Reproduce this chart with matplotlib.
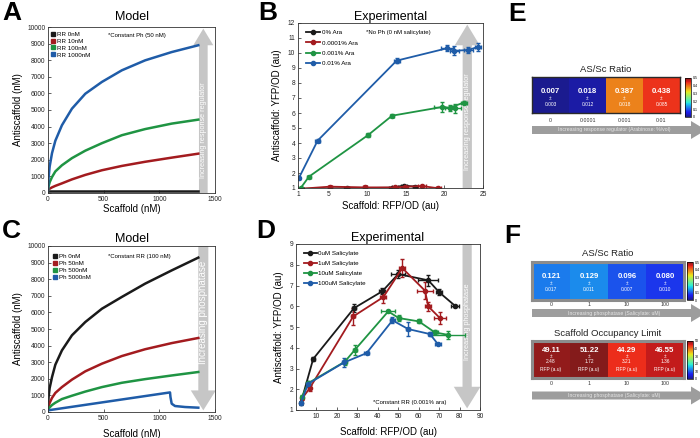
import numpy as np
import matplotlib
matplotlib.use("Agg")
import matplotlib.pyplot as plt
from matplotlib.lines import Line2D
from matplotlib.patches import FancyArrow
from matplotlib.colors import ListedColormap

plt.rcParams['font.family'] = ['Liberation Sans', 'DejaVu Sans']

# ---------------- data ----------------
# Panel A (model, constant Ph 50 nM)
A_x = [0, 5, 15, 36, 66, 125, 215, 335, 484, 663, 872, 1111, 1350]
A_rr0 = [150, 150, 150, 150, 150, 150, 150, 150, 150, 150, 150, 150, 150]
A_rr10 = [150, 200, 260, 340, 430, 580, 820, 1090, 1370, 1630, 1880, 2130, 2370]
A_rr100 = [150, 400, 650, 960, 1300, 1670, 2100, 2550, 3000, 3480, 3850, 4180, 4420]
A_rr1000 = [150, 900, 1600, 2400, 3150, 4080, 5080, 5980, 6690, 7390, 7990, 8490, 8900]
A_labels = ['RR 0nM', 'RR 10nM', 'RR 100nM', 'RR 1000nM']

# Panel C (model, constant RR 100 nM)
C_x = [0, 5, 15, 36, 66, 125, 215, 335, 484, 663, 872, 1111, 1350]
C_ph0 = [150, 900, 1450, 2100, 2850, 3710, 4620, 5420, 6220, 6930, 7730, 8530, 9300]
C_ph50 = [150, 350, 550, 850, 1150, 1500, 1950, 2450, 2910, 3370, 3780, 4150, 4460]
C_ph500 = [120, 190, 280, 420, 560, 780, 980, 1230, 1500, 1760, 1980, 2200, 2410]
C_ph5000_x = [0, 1096, 1100, 1111, 1141, 1231, 1350]
C_ph5000 = [100, 1180, 900, 500, 360, 300, 260]
C_labels = ['Ph 0nM', 'Ph 50nM', 'Ph 500nM', 'Ph 5000nM']

# Panel B (experimental, no Ph)
B_labels = ['0% Ara', '0.0001% Ara', '0.001% Ara', '0.01% Ara']
B0_x = [1.5, 7.3, 13.2, 14.7, 16.2]
B0_y = [0.95, 0.98, 1.02, 1.16, 1.09]
B0_xe = [0.2, 0.3, 0.4, 0.4, 0.3]
B0_ye = [0.03, 0.03, 0.03, 0.05, 0.04]
B1_x = [1.35, 5.15, 9.7, 13.6, 14.9, 17.1, 19.2]
B1_y = [0.95, 1.09, 1.04, 1.04, 1.09, 1.13, 0.98]
B1_xe = [0.2, 0.3, 0.3, 0.4, 0.4, 0.5, 0.3]
B1_ye = [0.03, 0.04, 0.03, 0.03, 0.04, 0.05, 0.03]
B2_x = [1.35, 2.43, 10.1, 13.2, 19.7, 21.4, 20.7, 22.5]
B2_y = [1.0, 1.76, 4.53, 5.82, 6.40, 6.30, 6.36, 6.69]
B2_xe = [0.1, 0.2, 0.3, 0.3, 1.0, 0.8, 0.6, 0.4]
B2_ye = [0.03, 0.05, 0.15, 0.1, 0.35, 0.3, 0.2, 0.1]
B3_x = [1.13, 3.55, 13.8, 20.3, 21.3, 23.1, 24.3]
B3_y = [1.68, 4.16, 9.49, 10.31, 10.15, 10.2, 10.4]
B3_xe = [0.1, 0.3, 0.4, 0.8, 0.6, 0.6, 0.4]
B3_ye = [0.05, 0.1, 0.15, 0.2, 0.3, 0.2, 0.25]

# Panel D (experimental, constant RR)
D_labels = ['0uM Salicylate', '1uM Salicylate', '10uM Salicylate', '100uM Salicylate']
D0_x = [2.3, 8.4, 28.4, 42.2, 50.0, 64.7, 70.1, 77.8]
D0_y = [1.32, 3.46, 5.91, 6.72, 7.55, 7.25, 6.67, 6.02]
D0_xe = [0.5, 0.8, 1.0, 1.5, 3.5, 5.0, 1.5, 2.0]
D0_ye = [0.05, 0.1, 0.2, 0.15, 0.2, 0.25, 0.15, 0.05]
D1_x = [3.0, 6.7, 28.0, 42.7, 52.0, 63.1, 64.7, 70.4]
D1_y = [1.56, 2.05, 5.51, 6.44, 7.84, 6.75, 5.99, 5.43]
D1_xe = [0.5, 0.8, 1.0, 1.5, 1.5, 4.0, 1.5, 3.0]
D1_ye = [0.1, 0.15, 0.4, 0.3, 0.45, 0.4, 0.2, 0.3]
D2_x = [3.0, 5.9, 23.9, 28.8, 45.1, 50.3, 60.1, 67.9, 74.5]
D2_y = [1.64, 2.29, 3.33, 3.90, 5.75, 5.43, 5.27, 4.74, 4.62]
D2_xe = [0.5, 0.8, 1.0, 1.0, 3.5, 1.0, 1.0, 1.5, 8.0]
D2_ye = [0.1, 0.1, 0.15, 0.25, 0.05, 0.15, 0.1, 0.1, 0.2]
D3_x = [2.3, 5.9, 23.5, 34.5, 47.2, 54.9, 65.5, 69.3]
D3_y = [1.32, 2.26, 3.29, 3.74, 5.32, 4.90, 4.66, 4.19]
D3_xe = [0.5, 0.8, 1.0, 1.0, 1.0, 1.0, 1.0, 1.5]
D3_ye = [0.1, 0.15, 0.2, 0.05, 0.15, 0.35, 0.1, 0.05]

# Panel E / F heatmaps
E_cats = ['0', '0.0001', '0.001', '0.01']
E_ratio = [0.007, 0.018, 0.387, 0.438]
E_err = [0.003, 0.012, 0.018, 0.085]
F_cats = ['0', '1', '10', '100']
F_ratio = [0.121, 0.129, 0.096, 0.080]
F_err = [0.017, 0.011, 0.007, 0.010]
F_occ = [49.11, 51.22, 44.29, 46.55]
F_occ_err = [2.48, 1.72, 3.21, 1.36]

# ---------------- style ----------------
COL = ['#1a1a1a', '#a31b1f', '#1f9443', '#1f5ca8']
ARROW_GRAY = '#c6c6c6'
W, H = 700, 438

fig = plt.figure(figsize=(7, 4.38), dpi=100)


def px_axes(l, t, r, b):
    return fig.add_axes([l / W, (H - b) / H, (r - l) / W, (b - t) / H])


def style_axes(ax):
    for s in ax.spines.values():
        s.set_linewidth(0.6)
        s.set_color('#333333')
    ax.tick_params(direction='in', length=2, width=0.5, labelsize=4.8, pad=2,
                   colors='#222222')


def panel_arrow(ax, xc, up, width, head_w, head_l, text, tfrac, fs):
    if up:
        arr = FancyArrow(xc, 0.0, 0, 0.99, width=width, head_width=head_w,
                         head_length=head_l, length_includes_head=True,
                         transform=ax.transAxes, color=ARROW_GRAY, lw=0, zorder=0.5)
    else:
        arr = FancyArrow(xc, 1.0, 0, -0.99, width=width, head_width=head_w,
                         head_length=head_l, length_includes_head=True,
                         transform=ax.transAxes, color=ARROW_GRAY, lw=0, zorder=0.5)
    ax.add_patch(arr)
    ax.text(xc, tfrac, text, rotation=90, color='white', ha='center', va='center',
            fontsize=fs, transform=ax.transAxes, zorder=0.6)


# ---------- Panel A ----------
axA = px_axes(48, 27, 215, 193)
for ys, c in zip([A_rr0, A_rr10, A_rr100, A_rr1000], COL):
    axA.plot(A_x, ys, color=c, lw=1.8, zorder=2)
axA.set_xlim(0, 1500)
axA.set_ylim(0, 10000)
axA.set_xticks([0, 500, 1000, 1500])
axA.set_yticks(range(0, 10001, 1000))
style_axes(axA)
axA.set_xlabel('Scaffold (nM)', fontsize=7, labelpad=1)
axA.set_ylabel('Antiscaffold (nM)', fontsize=7, labelpad=3)
axA.set_title('Model', fontsize=9, pad=5)
panel_arrow(axA, 0.93, True, 0.052, 0.12, 0.1, 'Increasing response regulator', 0.38, 5.2)
hA = [Line2D([], [], marker='s', ls='none', color=c, ms=3) for c in COL]
axA.legend(hA, A_labels, loc='upper left', bbox_to_anchor=(-0.01, 1.0), fontsize=4.5,
           frameon=False, handlelength=0.8, handletextpad=0.2, labelspacing=0.25,
           borderaxespad=0.3)
axA.text(0.36, 0.95, '*Constant Ph (50 nM)', fontsize=4.3, transform=axA.transAxes,
         va='center')

# ---------- Panel C ----------
axC = px_axes(48, 246, 215, 412)
for ys, c in zip([C_ph0, C_ph50, C_ph500], COL[:3]):
    axC.plot(C_x, ys, color=c, lw=1.8, zorder=2)
axC.plot(C_ph5000_x, C_ph5000, color=COL[3], lw=1.8, zorder=2)
axC.set_xlim(0, 1500)
axC.set_ylim(0, 10000)
axC.set_xticks([0, 500, 1000, 1500])
axC.set_yticks(range(0, 10001, 1000))
style_axes(axC)
axC.set_xlabel('Scaffold (nM)', fontsize=7, labelpad=5)
axC.set_ylabel('Antiscaffold (nM)', fontsize=7, labelpad=3)
axC.set_title('Model', fontsize=9, pad=3)
panel_arrow(axC, 0.93, False, 0.06, 0.15, 0.12, 'Increasing phosphatase', 0.60, 7.0)
hC = [Line2D([], [], marker='s', ls='none', color=c, ms=3) for c in COL]
axC.legend(hC, C_labels, loc='upper left', bbox_to_anchor=(0.0, 0.98), fontsize=4.5,
           frameon=False, handlelength=0.8, handletextpad=0.2, labelspacing=0.25,
           borderaxespad=0.3)
axC.text(0.36, 0.935, '*Constant RR (100 nM)', fontsize=4.3, transform=axC.transAxes,
         va='center')

# ---------- Panel B ----------
axB = px_axes(298, 23, 483, 188)
for (x, y, xe, ye), c in zip([(B0_x, B0_y, B0_xe, B0_ye), (B1_x, B1_y, B1_xe, B1_ye),
                               (B2_x, B2_y, B2_xe, B2_ye), (B3_x, B3_y, B3_xe, B3_ye)], COL):
    axB.errorbar(x, y, xerr=xe, yerr=ye, color=c, marker='o', ms=3, lw=1.3,
                 elinewidth=1.0, capsize=1.2, zorder=2)
axB.set_xlim(1, 25)
axB.set_ylim(1, 12)
axB.set_xticks([1, 5, 10, 15, 20, 25])
axB.set_yticks(range(1, 13))
style_axes(axB)
axB.set_xlabel('Scaffold: RFP/OD (au)', fontsize=7, labelpad=2)
axB.set_ylabel('Antiscaffold: YFP/OD (au)', fontsize=7, labelpad=4)
axB.set_title('Experimental', fontsize=9, pad=2)
panel_arrow(axB, 0.915, True, 0.05, 0.135, 0.125, 'Increasing response regulator', 0.40, 5.3)
hB = [Line2D([], [], marker='o', color=c, ms=3, lw=1.3) for c in COL]
axB.legend(hB, B_labels, loc='upper left', bbox_to_anchor=(0.02, 0.985), fontsize=4.5,
           frameon=False, handlelength=2.2, handletextpad=0.4, labelspacing=0.8,
           borderaxespad=0.3)
axB.text(0.37, 0.945, '*No Ph (0 nM salicylate)', fontsize=4.3, transform=axB.transAxes,
         va='center')

# ---------- Panel D ----------
axD = px_axes(296, 244, 480, 410)
for (x, y, xe, ye), c in zip([(D0_x, D0_y, D0_xe, D0_ye), (D1_x, D1_y, D1_xe, D1_ye),
                               (D2_x, D2_y, D2_xe, D2_ye), (D3_x, D3_y, D3_xe, D3_ye)], COL):
    axD.errorbar(x, y, xerr=xe, yerr=ye, color=c, marker='o', ms=3, lw=1.3,
                 elinewidth=1.0, capsize=1.2, zorder=2)
axD.set_xlim(0, 90)
axD.set_ylim(1, 9)
axD.set_xticks(range(10, 91, 10))
axD.set_yticks(range(1, 10))
style_axes(axD)
axD.set_xlabel('Scaffold: RFP/OD (au)', fontsize=7, labelpad=5)
axD.set_ylabel('Antiscaffold: YFP/OD (au)', fontsize=7, labelpad=4)
axD.set_title('Experimental', fontsize=9, pad=2)
panel_arrow(axD, 0.93, False, 0.05, 0.145, 0.13, 'Increasing phosphatase', 0.535, 5.2)
hD = [Line2D([], [], marker='o', color=c, ms=3, lw=1.3) for c in COL]
axD.legend(hD, D_labels, loc='upper left', bbox_to_anchor=(0.02, 0.985), fontsize=4.5,
           frameon=False, handlelength=2.0, handletextpad=0.3, labelspacing=0.75,
           borderaxespad=0.3)
axD.text(0.42, 0.045, '*Constant RR (0.001% ara)', fontsize=4.3, transform=axD.transAxes,
         va='center')

# ---------- heatmaps ----------
base = plt.get_cmap('jet')(np.linspace(0, 1, 256))[:, :3]
muted = base * 0.82 + 0.18 * 0.6
CMAP = ListedColormap(muted)


def heatmap(box, cbox, values, vmax, cbticks, cats, cat_pad, border_col, border_lw,
            cell_texts, title, title_y, arrow_y, arrow_text):
    ax = px_axes(*box)
    im = ax.imshow(np.array(values)[None, :], cmap=CMAP, vmin=0, vmax=vmax,
                   aspect='auto', extent=(0, len(values), 0, 1))
    ax.set_xlim(0, len(values))
    ax.set_ylim(0, 1)
    ax.set_yticks([])
    ax.set_xticks(np.arange(len(values)) + 0.5)
    ax.set_xticklabels(cats, fontsize=3.8, color='#333333')
    ax.tick_params(axis='x', length=0, pad=cat_pad)
    for s in ax.spines.values():
        s.set_color(border_col)
        s.set_linewidth(border_lw)
    for i in range(len(values)):
        for (yy, txt, fs, bold) in cell_texts[i]:
            ax.text(i + 0.5, yy, txt, ha='center', va='center', color='white',
                    fontsize=fs, fontweight='bold' if bold else 'normal')
    cax = px_axes(*cbox)
    cb = fig.colorbar(im, cax=cax, ticks=cbticks)
    cb.ax.tick_params(labelsize=2.6, length=0, pad=1)
    cb.outline.set_linewidth(0.5)
    cb.ax.set_yticklabels([('%g' % t) for t in cbticks])
    xc = (box[0] + box[2]) / 2
    fig.text(xc / W, 1 - title_y / H, title, ha='center', va='center', fontsize=6.8,
             color='#222222')
    # grey arrow below
    arr = FancyArrow(532 / W, 1 - arrow_y / H, (706 - 532) / W, 0, width=8 / H,
                     head_width=18 / H, head_length=15 / W, length_includes_head=True,
                     transform=fig.transFigure, color='#9d9d9d', lw=0)
    fig.add_artist(arr)
    fig.text(614 / W, 1 - arrow_y / H, arrow_text, ha='center', va='center',
             fontsize=3.7, color='#e6e6e6')


E_texts = [[(0.6, '%.3f' % v, 5.6, True), (0.4, '\u00b1', 3.5, False),
            (0.23, '%.3f' % e, 3.5, False)] for v, e in zip(E_ratio, E_err)]
heatmap((532, 77, 680, 113), (685, 78, 691, 117), E_ratio, 0.5,
        [0, 0.1, 0.2, 0.3, 0.4, 0.5], E_cats, 3.5, '#2a2a2a', 1.0, E_texts,
        'AS/Sc Ratio', 70, 130, 'Increasing response regulator (Arabinose: %/vol)')

F_texts = [[(0.62, '%.3f' % v, 5.6, True), (0.43, '\u00b1', 3.5, False),
            (0.27, '%.3f' % e, 3.5, False)] for v, e in zip(F_ratio, F_err)]
heatmap((532, 262, 684, 300), (687, 262, 693, 300), F_ratio, 0.5,
        [0, 0.1, 0.2, 0.3, 0.4, 0.5], F_cats, 1.5, '#8c8c8c', 2.2, F_texts,
        'AS/Sc Ratio', 253, 313, 'Increasing phosphatase (Salicylate: uM)')

G_texts = [[(0.73, '%.2f' % v, 5.6, True), (0.57, '\u00b1', 3.5, False),
            (0.44, '%.2f' % e, 3.5, False), (0.22, 'RFP (a.u)', 3.5, False)]
           for v, e in zip(F_occ, F_occ_err)]
heatmap((532, 341, 684, 378), (687, 341, 693, 379), F_occ, 50,
        [0, 10, 20, 30, 40, 50], F_cats, 2.0, '#8c8c8c', 2.2, G_texts,
        'Scaffold Occupancy Limit', 333, 395.5, 'Increasing phosphatase (Salicylate: uM)')

# ---------- panel letters ----------
for letter, (x, y) in zip('ABCDEF', [(12, 13), (268, 13), (11, 231), (266, 231),
                                     (517, 14), (512, 236)]):
    fig.text(x / W, 1 - y / H, letter, ha='center', va='center', fontsize=19,
             fontweight='bold')

fig.savefig('out.png', dpi=100)
